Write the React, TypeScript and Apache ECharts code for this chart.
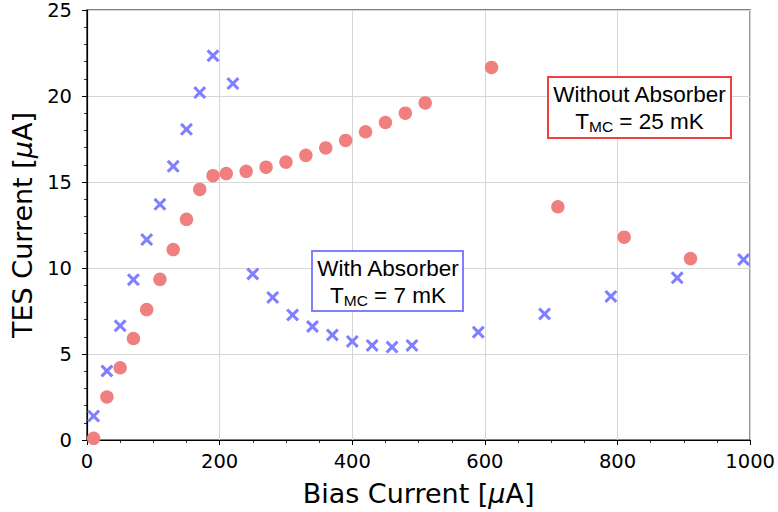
import React, { useEffect, useRef } from "react";
import * as echarts from "echarts";

const biasWithout = [10, 30, 50, 70, 90, 110, 130, 150, 170, 190, 210, 240, 270, 300, 330, 360, 390, 420, 450, 480, 510, 610, 710, 810, 910];
const tesWithout = [0.1, 2.5, 4.2, 5.9, 7.58, 9.34, 11.07, 12.83, 14.57, 15.37, 15.49, 15.62, 15.86, 16.16, 16.55, 16.98, 17.42, 17.92, 18.46, 19.0, 19.6, 21.66, 13.56, 11.79, 10.55];

const biasWith = [10, 30, 50, 70, 90, 110, 130, 150, 170, 190, 220, 250, 280, 310, 340, 370, 400, 430, 460, 490, 590, 690, 790, 890, 990];
const tesWith = [1.39, 4.01, 6.64, 9.32, 11.65, 13.7, 15.91, 18.06, 20.2, 22.34, 20.72, 9.65, 8.29, 7.27, 6.6, 6.11, 5.73, 5.5, 5.4, 5.5, 6.27, 7.33, 8.35, 9.43, 10.49];

const CROSS = "path://M0,2L2,0L6,4L10,0L12,2L8,6L12,10L10,12L6,8L2,12L0,10L4,6Z";

export default function App() {
  const ref = useRef<HTMLDivElement>(null);
  useEffect(() => {
    const chart = echarts.init(ref.current!, null, { renderer: "svg" });
    const font = "DejaVu Sans";
    const annoFont = "Liberation Sans";
    const nameStyle = {
      fontFamily: font, fontSize: 27, color: "#000",
      rich: { i: { fontFamily: font, fontSize: 27, fontStyle: "italic", color: "#000" } },
    };
    chart.setOption({
      animation: false,
      grid: { left: 87, right: 26, top: 8, bottom: 72, show: true, borderColor: "#000", borderWidth: 1.2, backgroundColor: "transparent" },
      xAxis: {
        type: "value", min: 0, max: 1000, interval: 200,
        name: "Bias Current [{i|μ}A]", nameLocation: "middle", nameGap: 40,
        nameTextStyle: nameStyle,
        axisLine: { show: true, lineStyle: { color: "#000", width: 1.2 } },
        axisTick: { show: true, inside: false, length: 5, lineStyle: { color: "#000", width: 1 } },
        minorTick: { show: true, splitNumber: 4, length: 3, lineStyle: { color: "#000", width: 0.8 } },
        axisLabel: { fontFamily: font, fontSize: 19.5, color: "#000", margin: 11, formatter: (v: number) => String(v) },
        splitLine: { show: true, lineStyle: { color: "#d6d6d6", width: 1 } },
      },
      yAxis: {
        type: "value", min: 0, max: 25, interval: 5,
        name: "TES Current [{i|μ}A]", nameLocation: "middle", nameGap: 45,
        nameTextStyle: nameStyle,
        axisLine: { show: true, lineStyle: { color: "#000", width: 1.2 } },
        axisTick: { show: true, inside: false, length: 5, lineStyle: { color: "#000", width: 1 } },
        minorTick: { show: true, splitNumber: 5, length: 3, lineStyle: { color: "#000", width: 0.8 } },
        axisLabel: { fontFamily: font, fontSize: 19.5, color: "#000", margin: 15 },
        splitLine: { show: true, lineStyle: { color: "#d6d6d6", width: 1 } },
      },
      series: [
        {
          type: "scatter", name: "Without Absorber",
          data: biasWithout.map((b, i) => [b, tesWithout[i]]),
          symbol: "circle", symbolSize: 13.5,
          itemStyle: { color: "#f08080", opacity: 1 },
          z: 3,
        },
        {
          type: "scatter", name: "With Absorber",
          data: biasWith.map((b, i) => [b, tesWith[i]]),
          symbol: CROSS, symbolSize: 13,
          itemStyle: { color: "#7f7fff", opacity: 1 },
          z: 4,
        },
      ],
      graphic: [
        { type: "rect", shape: { x: 548, y: 77, width: 183, height: 61 }, style: { fill: "#fff", stroke: "#f04040", lineWidth: 2 }, z: 10 },
        {
          type: "text", x: 639.5, y: 94, z: 11,
          style: { text: "Without Absorber", fontFamily: annoFont, fontSize: 22.5, fill: "#000", align: "center", verticalAlign: "middle" },
        },
        {
          type: "text", x: 639.5, y: 121, z: 11,
          style: {
            text: "T{s|MC} = 25 mK", fontFamily: annoFont, fontSize: 22.5, fill: "#000", align: "center", verticalAlign: "middle",
            rich: { s: { fontFamily: annoFont, fontSize: 15.5, fill: "#000", padding: [10, 0, 0, 0] } },
          },
        },
        { type: "rect", shape: { x: 312, y: 251, width: 151, height: 60 }, style: { fill: "#fff", stroke: "#7f7fff", lineWidth: 2 }, z: 10 },
        {
          type: "text", x: 388, y: 268, z: 11,
          style: { text: "With Absorber", fontFamily: annoFont, fontSize: 22.5, fill: "#000", align: "center", verticalAlign: "middle" },
        },
        {
          type: "text", x: 388, y: 295, z: 11,
          style: {
            text: "T{s|MC} = 7 mK", fontFamily: annoFont, fontSize: 22.5, fill: "#000", align: "center", verticalAlign: "middle",
            rich: { s: { fontFamily: annoFont, fontSize: 15.5, fill: "#000", padding: [10, 0, 0, 0] } },
          },
        },
      ],
    });
    return () => chart.dispose();
  }, []);
  return <div ref={ref} style={{ width: 778, height: 512, position: "absolute", left: 0, top: 0 }} />;
}
